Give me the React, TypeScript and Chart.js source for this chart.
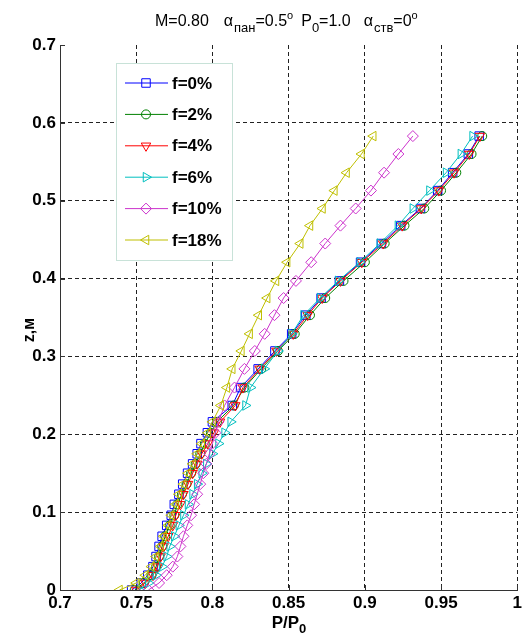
import { useEffect, useRef } from 'react';
import { Chart, registerables } from 'chart.js';
import { drawPoint } from 'chart.js/helpers';

Chart.register(...registerables);

// Height z (m) – shared by all series
const Z = [0, 0.009, 0.019, 0.030, 0.043, 0.056, 0.069, 0.083, 0.096, 0.110,
  0.123, 0.136, 0.150, 0.162, 0.175, 0.188, 0.202, 0.216,
  0.237, 0.260, 0.284, 0.307, 0.329, 0.353, 0.375, 0.397, 0.421, 0.445,
  0.468, 0.490, 0.513, 0.536, 0.560, 0.583];

// P/P0 for each f
const P_F0 = [0.747, 0.7533, 0.7576, 0.761, 0.763, 0.765, 0.767, 0.770, 0.773, 0.775,
  0.778, 0.7805, 0.7837, 0.787, 0.790, 0.7925, 0.7967, 0.800,
  0.813, 0.8185, 0.830, 0.841, 0.852, 0.8613, 0.8713, 0.8833, 0.8972, 0.9109,
  0.9235, 0.9365, 0.9478, 0.9576, 0.9679, 0.975];
const P_F2 = [0.749, 0.755, 0.760, 0.763, 0.765, 0.767, 0.769, 0.772, 0.775, 0.777,
  0.780, 0.783, 0.786, 0.789, 0.792, 0.795, 0.799, 0.803,
  0.814, 0.821, 0.832, 0.843, 0.854, 0.864, 0.874, 0.886, 0.900, 0.913,
  0.926, 0.939, 0.950, 0.960, 0.970, 0.977];
const P_F4 = [0.750, 0.756, 0.761, 0.764, 0.766, 0.768, 0.771, 0.774, 0.776, 0.779,
  0.781, 0.784, 0.787, 0.790, 0.793, 0.797, 0.801, 0.805,
  0.815, 0.820, 0.831, 0.842, 0.853, 0.8625, 0.872, 0.884, 0.898, 0.912,
  0.9245, 0.937, 0.9485, 0.9585, 0.9685, 0.9755];
const P_F6 = [0.752, 0.758, 0.763, 0.767, 0.770, 0.772, 0.775, 0.778, 0.781, 0.784,
  0.787, 0.790, 0.793, 0.796, 0.800, 0.804, 0.808, 0.812,
  0.8217, 0.825, 0.834, 0.843, 0.852, 0.8598, 0.8707, 0.8826, 0.8967, 0.9098,
  0.9217, 0.9315, 0.9424, 0.9533, 0.963, 0.9707];
const P_F10 = [0.758, 0.765, 0.770, 0.774, 0.777, 0.779, 0.781, 0.7835, 0.786, 0.788,
  0.790, 0.792, 0.794, 0.796, 0.798, 0.800, 0.802, 0.804,
  0.808, 0.8145, 0.821, 0.8278, 0.8343, 0.8407, 0.8467, 0.8548, 0.8648, 0.874,
  0.884, 0.894, 0.904, 0.9126, 0.922, 0.9315];
const P_F18 = [0.739, 0.750, 0.756, 0.760, 0.763, 0.766, 0.768, 0.771, 0.773, 0.776,
  0.778, 0.781, 0.784, 0.787, 0.790, 0.793, 0.797, 0.800,
  0.8055, 0.8095, 0.813, 0.819, 0.8244, 0.8304, 0.8359, 0.8417, 0.849, 0.8576,
  0.864, 0.8722, 0.880, 0.888, 0.8978, 0.9055];

const SERIES_LABELS = ['f=0%', 'f=2%', 'f=4%', 'f=6%', 'f=10%', 'f=18%'];
const SERIES_VALUES = [P_F0, P_F2, P_F4, P_F6, P_F10, P_F18];
const SERIES_COLORS = ['#0000FF', '#008000', '#FF0000', '#00BFBF', '#CC33CC', '#BFBF00'];
const SERIES_MARKERS = ['rect', 'circle', 'triangle', 'triangle', 'rectRot', 'triangle'];
const SERIES_ROTATION = [0, 0, 180, 90, 0, 270];
const SERIES_RADIUS = [6, 4.5, 5.5, 5.5, 5.5, 5.5];

const X_TICKS = [0.7, 0.75, 0.8, 0.85, 0.9, 0.95, 1];
const Y_TICKS = [0, 0.1, 0.2, 0.3, 0.4, 0.5, 0.6, 0.7];

const FONT = '"Liberation Sans", Arial, Helvetica, sans-serif';
const TICK_SIZE = 17;

type Seg = { t: string; size: number; dy: number; bold?: boolean; gap?: number };

function drawRich(ctx: CanvasRenderingContext2D, segs: Seg[], x0: number, by: number, center: boolean) {
  let total = 0;
  const widths = segs.map((s) => {
    ctx.font = `${s.bold ? 'bold ' : ''}${s.size}px ${FONT}`;
    const w = ctx.measureText(s.t).width + (s.gap || 0);
    total += w;
    return w;
  });
  let x = center ? x0 - total / 2 : x0;
  ctx.textAlign = 'left';
  ctx.textBaseline = 'alphabetic';
  segs.forEach((s, i) => {
    ctx.font = `${s.bold ? 'bold ' : ''}${s.size}px ${FONT}`;
    ctx.fillText(s.t, x, by + s.dy);
    x += widths[i];
  });
}

const decorPlugin = {
  id: 'decor',
  afterDraw(chart: any) {
    const ctx: CanvasRenderingContext2D = chart.ctx;
    const xs = chart.scales.x;
    const ys = chart.scales.y;
    const area = chart.chartArea;
    ctx.save();
    // inward tick marks
    ctx.strokeStyle = '#333';
    ctx.lineWidth = 1;
    ctx.beginPath();
    X_TICKS.forEach((v) => {
      const px = Math.round(xs.getPixelForValue(v)) + 0.5;
      ctx.moveTo(px, area.bottom);
      ctx.lineTo(px, area.bottom - 5);
    });
    Y_TICKS.forEach((v) => {
      const py = Math.round(ys.getPixelForValue(v)) + 0.5;
      ctx.moveTo(area.left, py);
      ctx.lineTo(area.left + 5, py);
    });
    ctx.stroke();

    // title
    ctx.fillStyle = '#000';
    const n = 16, sb = 13, sp = 11;
    drawRich(ctx, [
      { t: 'M=0.80', size: n, dy: 0, gap: 15 },
      { t: 'α', size: n, dy: 0, gap: 1 },
      { t: 'пан', size: sb, dy: 6 },
      { t: '=0.5', size: n, dy: 0 },
      { t: 'o', size: sp, dy: -7, gap: 8 },
      { t: 'P', size: n, dy: 0 },
      { t: '0', size: sb, dy: 6 },
      { t: '=1.0', size: n, dy: 0, gap: 13 },
      { t: 'α', size: n, dy: 0, gap: 1 },
      { t: 'ств', size: sb, dy: 6 },
      { t: '=0', size: n, dy: 0 },
      { t: 'o', size: sp, dy: -7 },
    ], 155, 26, false);

    // x axis label
    drawRich(ctx, [
      { t: 'P/P', size: 17, dy: 0, bold: true },
      { t: '0', size: 13, dy: 5, bold: true },
    ], 289, 628, true);

    // y axis label
    ctx.save();
    ctx.translate(30, 330);
    ctx.rotate(-Math.PI / 2);
    ctx.font = `bold 16px ${FONT}`;
    ctx.textAlign = 'center';
    ctx.textBaseline = 'middle';
    ctx.fillText('z,м', 0, 0);
    ctx.restore();

    // legend
    const bx = 116, by = 63, bw = 116, bh = 197;
    ctx.fillStyle = '#fff';
    ctx.fillRect(bx, by, bw, bh);
    ctx.strokeStyle = '#C8E2D8';
    ctx.lineWidth = 1;
    ctx.strokeRect(bx + 0.5, by + 0.5, bw, bh);
    chart.data.datasets.forEach((ds: any, i: number) => {
      const yy = 83 + i * 31.4;
      ctx.strokeStyle = ds.borderColor;
      ctx.lineWidth = 1;
      ctx.beginPath();
      ctx.moveTo(125, yy);
      ctx.lineTo(168, yy);
      ctx.stroke();
      ctx.fillStyle = 'rgba(0,0,0,0)';
      drawPoint(ctx, {
        pointStyle: ds.pointStyle,
        rotation: ds.pointRotation,
        radius: ds.pointRadius,
        borderWidth: 1,
      } as any, 146, yy);
      ctx.fillStyle = '#000';
      ctx.font = `bold 17px ${FONT}`;
      ctx.textAlign = 'left';
      ctx.textBaseline = 'middle';
      ctx.fillText(ds.label, 172, yy + 1);
    });
    ctx.restore();
  },
};

const fmt = (v: number) => String(+Number(v).toFixed(2));

export default function App() {
  const ref = useRef<HTMLCanvasElement | null>(null);
  useEffect(() => {
    if (!ref.current) return;
    const datasets = SERIES_VALUES.map((vals, i) => ({
      label: SERIES_LABELS[i],
      data: Z.map((z, k) => ({ x: vals[k], y: z })),
      borderColor: SERIES_COLORS[i],
      backgroundColor: 'rgba(0,0,0,0)',
      pointBackgroundColor: 'rgba(0,0,0,0)',
      pointBorderColor: SERIES_COLORS[i],
      pointStyle: SERIES_MARKERS[i],
      pointRotation: SERIES_ROTATION[i],
      pointRadius: SERIES_RADIUS[i],
      pointBorderWidth: 1,
      borderWidth: 1,
      showLine: true,
      fill: false,
      tension: 0,
      order: SERIES_VALUES.length - i,
    }));
    const gridColor = (lim: number) => (c: any) =>
      c.tick && Math.abs(c.tick.value - lim) < 1e-9 ? 'rgba(0,0,0,0)' : '#222';
    const chart = new Chart(ref.current, {
      type: 'scatter',
      data: { datasets },
      options: {
        animation: false,
        responsive: true,
        maintainAspectRatio: false,
        layout: { padding: { top: 45, right: 5, left: 0, bottom: 0 } },
        plugins: { legend: { display: false }, tooltip: { enabled: false }, title: { display: false } },
        scales: {
          x: {
            type: 'linear',
            min: 0.7,
            max: 1,
            afterBuildTicks: (s: any) => { s.ticks = X_TICKS.map((v) => ({ value: v })); },
            afterFit: (s: any) => { s.height = 45; },
            ticks: {
              autoSkip: false,
              maxRotation: 0,
              padding: 3,
              color: '#000',
              font: { family: FONT, size: TICK_SIZE, weight: 'bold' },
              callback: (v: any) => fmt(v),
            },
            grid: { color: gridColor(0.7), lineWidth: 1, drawTicks: false },
            border: { display: true, color: '#333', width: 1, dash: [4, 3] },
          },
          y: {
            type: 'linear',
            min: 0,
            max: 0.7,
            afterBuildTicks: (s: any) => { s.ticks = Y_TICKS.map((v) => ({ value: v })); },
            afterFit: (s: any) => { s.width = 60; },
            ticks: {
              autoSkip: false,
              padding: 4,
              color: '#000',
              font: { family: FONT, size: TICK_SIZE, weight: 'bold' },
              callback: (v: any) => fmt(v),
            },
            grid: { color: gridColor(0.7), lineWidth: 1, drawTicks: false },
            border: { display: true, color: '#333', width: 1, dash: [4, 3] },
          },
        },
      } as any,
      plugins: [decorPlugin],
    });
    return () => chart.destroy();
  }, []);
  return (
    <div style={{ position: 'absolute', left: 0, top: 0, width: 525, height: 635, background: '#fff' }}>
      <canvas ref={ref} />
    </div>
  );
}
